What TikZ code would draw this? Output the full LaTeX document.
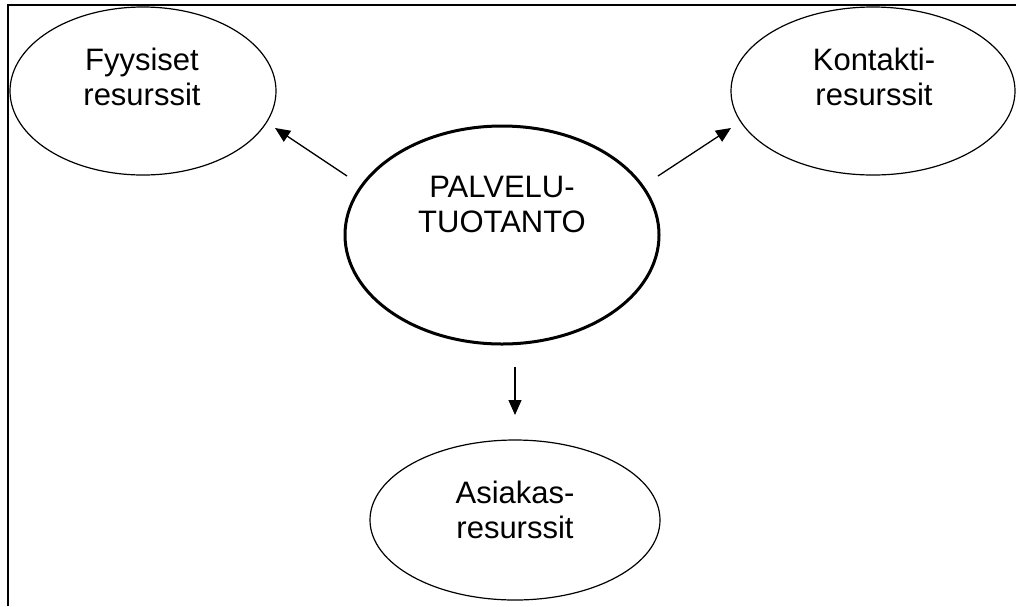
\documentclass[tikz,border=0pt]{standalone}
\usepackage{fontspec}
\setmainfont{Liberation Sans}
\usetikzlibrary{shapes.geometric,arrows.meta}
\begin{document}
\begin{tikzpicture}[x=1pt,y=-1pt,
  oval/.style={ellipse,draw,line width=1.2pt,inner sep=0pt},
  lbl/.style={align=center,inner sep=0pt,anchor=base,font=\fontsize{31}{35}\selectfont},
  arr/.style={line width=1.3pt,-{Triangle[length=15pt,width=13pt]}}]
\useasboundingbox (0,0) rectangle (1016,606);
\draw[line width=1.3pt] (8,606) -- (8,5) -- (1016,5);
\node[oval,minimum width=266pt,minimum height=168pt] (fyy) at (143,91) {};
\node[oval,minimum width=284pt,minimum height=168pt] (kon) at (873,91) {};
\node[oval,line width=3pt,minimum width=314pt,minimum height=218pt] (pal) at (502,235) {};
\node[oval,minimum width=290pt,minimum height=160pt] (asi) at (515,520) {};
\node[lbl] (ft) at (142,105) {Fyysiset\\resurssit};
\node[lbl] (kt) at (874,105) {Kontakti-\\resurssit};
\node[lbl] (pt) at (502,232) {PALVELU-\\TUOTANTO};
\node[lbl] (at) at (515,538) {Asiakas-\\resurssit};
\coordinate (a1t) at (347,176);
\coordinate (a1h) at (275,128);
\coordinate (a2t) at (658,176);
\coordinate (a2h) at (731,128);
\coordinate (a3t) at (515,367);
\coordinate (a3h) at (515,415);
\draw[arr] (a1t) -- (a1h);
\draw[arr] (a2t) -- (a2h);
\draw[arr] (a3t) -- (a3h);
\end{tikzpicture}
\end{document}
